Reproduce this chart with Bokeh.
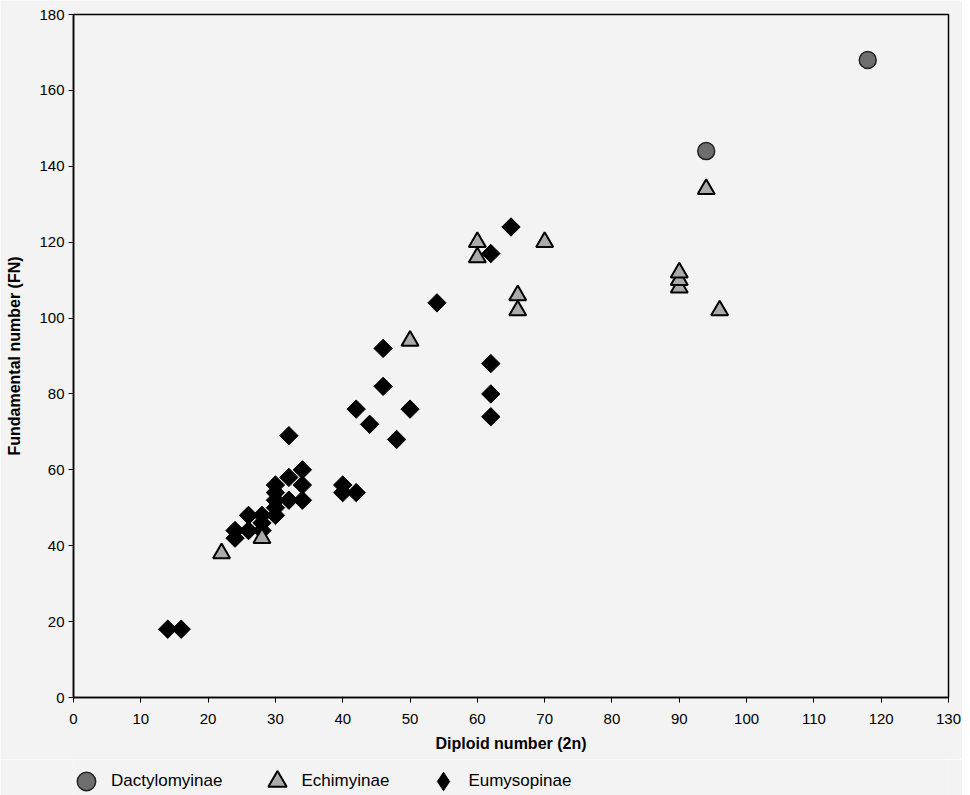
import numpy as np
from bokeh.plotting import figure
from bokeh.models import Range1d, FixedTicker, Legend, LegendItem
from bokeh.layouts import column
from bokeh.embed import file_html
from bokeh.resources import INLINE

# Dactylomyinae
dact_2n = [94, 118]
dact_fn = [144, 168]

# Echimyinae
echi_2n = [22, 28, 50, 60, 60, 66, 66, 70, 90, 90, 90, 94, 96]
echi_fn = [38, 42, 94, 116, 120, 102, 106, 120, 108, 110, 112, 134, 102]

# Eumysopinae
eumy_2n = [14, 16, 24, 24, 26, 26, 28, 28, 28, 30, 30, 30, 30, 30, 32, 32, 34, 34, 34, 32,
           40, 40, 42, 42, 44, 46, 46, 48, 50, 54, 62, 62, 62, 62, 65]
eumy_fn = [18, 18, 42, 44, 44, 48, 44, 46, 48, 48, 50, 52, 54, 56, 52, 58, 52, 56, 60, 69,
           54, 56, 54, 76, 72, 82, 92, 68, 76, 104, 74, 80, 88, 117, 124]

x_ticks = list(range(0, 131, 10))
y_ticks = list(range(0, 181, 20))

FONT = "Liberation Sans"
BG = "#f3f3f3"

p = figure(width=962, height=759, output_backend="svg", toolbar_location=None,
           x_range=Range1d(0, 130), y_range=Range1d(0, 180),
           min_border_left=73, min_border_right=14, min_border_top=14, min_border_bottom=62,
           background_fill_color=BG, border_fill_color=BG)

p.xgrid.visible = False
p.ygrid.visible = False
p.outline_line_color = "black"
p.outline_line_width = 1.5

for ax in (p.xaxis[0], p.yaxis[0]):
    ax.axis_line_color = "black"
    ax.axis_line_width = 1.5
    ax.major_tick_line_color = "black"
    ax.major_tick_out = 5
    ax.major_tick_in = 0
    ax.minor_tick_line_color = None
    ax.major_label_text_font = FONT
    ax.major_label_text_font_size = "15px"
    ax.major_label_text_color = "black"
    ax.axis_label_text_font = FONT
    ax.axis_label_text_font_size = "16px"
    ax.axis_label_text_font_style = "bold"
    ax.axis_label_text_color = "black"

p.xaxis.ticker = FixedTicker(ticks=x_ticks)
p.yaxis.ticker = FixedTicker(ticks=y_ticks)
p.xaxis.axis_label = "Diploid number (2n)"
p.yaxis.axis_label = "Fundamental number (FN)"
p.xaxis.major_label_standoff = 11
p.xaxis.axis_label_standoff = 8
p.yaxis.major_label_standoff = 4
p.yaxis.axis_label_standoff = 13

r_eumy = p.scatter(eumy_2n, eumy_fn, marker="square", size=13, angle=np.pi / 4,
                   fill_color="black", line_color="black", line_width=1)
r_echi = p.scatter(echi_2n, echi_fn, marker="triangle", size=17,
                   fill_color="#aaaaaa", line_color="black", line_width=2)
r_dact = p.scatter(dact_2n, dact_fn, marker="circle", size=17,
                   fill_color="#6e6e6e", line_color="#222222", line_width=1.5)

# legend strip below the chart (its renderers hold the series' first points,
# which lie outside this strip's ranges, so only the legend glyphs are seen)
lg = figure(width=962, height=36, output_backend="svg", toolbar_location=None,
            x_range=Range1d(0, 1), y_range=Range1d(0, 1),
            x_axis_location=None, y_axis_location=None,
            min_border_left=0, min_border_right=0, min_border_top=0, min_border_bottom=0,
            background_fill_color=BG, border_fill_color=BG, outline_line_color=None)
lg.xgrid.visible = False
lg.ygrid.visible = False
l_dact = lg.scatter(dact_2n[:1], dact_fn[:1], marker="circle", size=17,
                    fill_color="#6e6e6e", line_color="#222222", line_width=1.5)
l_echi = lg.scatter(echi_2n[:1], echi_fn[:1], marker="triangle", size=17,
                    fill_color="#aaaaaa", line_color="black", line_width=2)
l_eumy = lg.scatter(eumy_2n[:1], eumy_fn[:1], marker="diamond", size=22,
                    fill_color="black", line_color="black", line_width=1)

legend = Legend(items=[LegendItem(label="Dactylomyinae", renderers=[l_dact]),
                       LegendItem(label="Echimyinae", renderers=[l_echi]),
                       LegendItem(label="Eumysopinae", renderers=[l_eumy])],
                orientation="horizontal", location=(-10, -9),
                margin=0, padding=0, spacing=31, label_standoff=2,
                glyph_width=46, glyph_height=46,
                label_text_font=FONT, label_text_font_size="17px",
                label_text_color="black",
                background_fill_alpha=0, border_line_color=None)
lg.add_layout(legend, "center")

layout = column(p, lg, spacing=0)
open("out.html", "w").write(file_html(layout, INLINE))
